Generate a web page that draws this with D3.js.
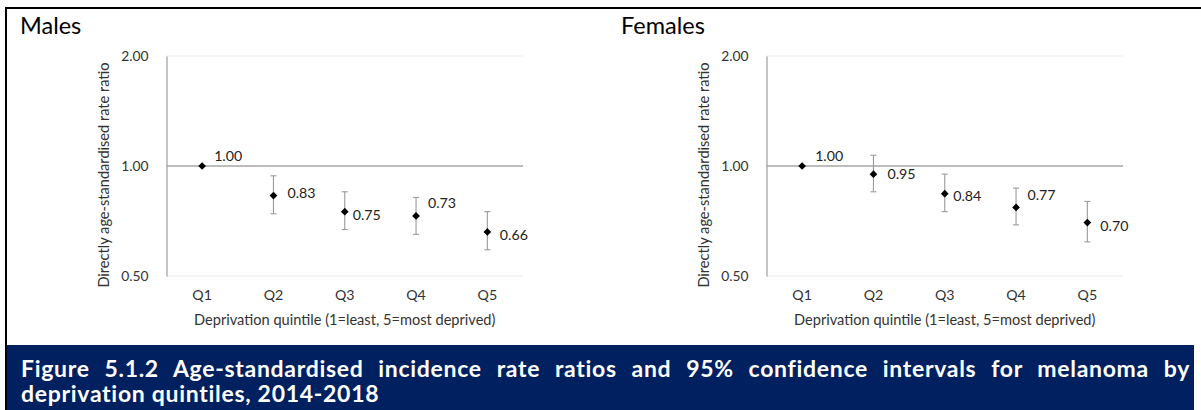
<!DOCTYPE html>
<html>
<head>
<meta charset="utf-8">
<script src="https://cdn.jsdelivr.net/npm/d3@7"></script>
<style>
  body { margin: 0; background: #fff; }
  svg { display: block; font-family: Lato, "Open Sans", sans-serif; }
</style>
</head>
<body>
<script>
// data
const categories = ["Q1", "Q2", "Q3", "Q4", "Q5"];
const yTicks = [0.5, 1, 2];

const maleRatio = [1.00, 0.83, 0.75, 0.73, 0.66];
const maleLower = [1.00, 0.74, 0.67, 0.65, 0.59];
const maleUpper = [1.00, 0.94, 0.85, 0.82, 0.75];

const femaleRatio = [1.00, 0.95, 0.84, 0.77, 0.70];
const femaleLower = [1.00, 0.85, 0.75, 0.69, 0.62];
const femaleUpper = [1.00, 1.07, 0.95, 0.87, 0.80];

const captionLines = [
    "Figure 5.1.2 Age-standardised incidence rate ratios and 95% confidence intervals for melanoma by",
    "deprivation quintiles, 2014-2018"
];

// label offsets (layout only) [dx, dy] from the marker
const maleLabelPos = [[12, -10], [14, -3], [8, 3], [12, -13], [12.5, 3.5]];
const femaleLabelPos = [[13, -10], [14, 0], [8.5, 2.5], [11.5, -12.7], [13, 3.7]];

const W = 1201, H = 410;
const plotTop = 56, plotH = 220, plotW = 356.5;

const svg = d3.select("body").append("svg")
    .attr("width", W)
    .attr("height", H);

// outer frame (top + left only)
svg.append("rect").attr("x", 5).attr("y", 7).attr("width", W - 5).attr("height", 2).attr("fill", "#000");
svg.append("rect").attr("x", 5).attr("y", 7).attr("width", 2).attr("height", H - 7).attr("fill", "#000");

const y = d3.scaleLog().domain([0.5, 2]).range([plotH, 0]);

const panels = [
    { title: "Males", titleX: 20, left: 166.5, ratio: maleRatio, lower: maleLower, upper: maleUpper, labelPos: maleLabelPos },
    { title: "Females", titleX: 621, left: 766.5, ratio: femaleRatio, lower: femaleLower, upper: femaleUpper, labelPos: femaleLabelPos }
];

panels.forEach(p => drawPanel(p));

function drawPanel(p) {
    const x = d3.scaleBand().domain(categories).range([0, plotW]);
    const rows = categories.map((c, i) => ({
        cat: c, v: p.ratio[i], lo: p.lower[i], hi: p.upper[i], pos: p.labelPos[i]
    }));

    svg.append("text")
        .attr("x", p.titleX)
        .attr("y", 33.5)
        .attr("font-size", 23.5)
        .attr("fill", "#000")
        .text(p.title);

    const g = svg.append("g").attr("transform", `translate(${p.left},${plotTop})`);

    // light gridlines at 0.5 and 2
    g.selectAll("line.grid")
        .data(yTicks.filter(d => d !== 1))
        .join("line")
        .attr("class", "grid")
        .attr("x1", 0).attr("x2", plotW)
        .attr("y1", d => y(d)).attr("y2", d => y(d))
        .attr("stroke", "#ebebeb")
        .attr("stroke-width", 1.2);

    // y axis
    const yAxis = g.append("g")
        .call(d3.axisLeft(y).tickValues(yTicks).tickFormat(d3.format(".2f")).tickSize(0).tickPadding(18));
    yAxis.select(".domain").attr("stroke", "#a6a6a6").attr("stroke-width", 1.3);
    yAxis.selectAll("text")
        .attr("font-family", "Lato, sans-serif")
        .attr("font-size", 13.8)
        .attr("fill", "#333");

    // horizontal axis crosses at 1.00
    g.append("line")
        .attr("x1", 0).attr("x2", plotW)
        .attr("y1", y(1)).attr("y2", y(1))
        .attr("stroke", "#a6a6a6")
        .attr("stroke-width", 1.5);

    // category labels sit at the bottom
    const xAxis = g.append("g")
        .attr("transform", `translate(0,${plotH})`)
        .call(d3.axisBottom(x).tickSize(0).tickPadding(14));
    xAxis.select(".domain").remove();
    xAxis.selectAll("text")
        .attr("font-family", "Lato, sans-serif")
        .attr("font-size", 14.2)
        .attr("fill", "#333");

    // error bars
    const cx = d => x(d.cat) + x.bandwidth() / 2;
    const bars = g.selectAll("g.err").data(rows.filter(d => d.hi !== d.lo)).join("g").attr("class", "err")
        .attr("stroke", "#9a9a9a").attr("stroke-width", 1.1);
    bars.append("line").attr("x1", cx).attr("x2", cx).attr("y1", d => y(d.hi)).attr("y2", d => y(d.lo));
    bars.append("line").attr("x1", d => cx(d) - 3).attr("x2", d => cx(d) + 3).attr("y1", d => y(d.hi)).attr("y2", d => y(d.hi));
    bars.append("line").attr("x1", d => cx(d) - 3).attr("x2", d => cx(d) + 3).attr("y1", d => y(d.lo)).attr("y2", d => y(d.lo));

    // diamond markers
    g.selectAll("path.pt")
        .data(rows)
        .join("path")
        .attr("class", "pt")
        .attr("d", d3.symbol(d3.symbolSquare, 30))
        .attr("transform", d => `translate(${cx(d)},${y(d.v)}) rotate(45)`)
        .attr("fill", "#000");

    // data labels
    g.selectAll("text.lbl")
        .data(rows)
        .join("text")
        .attr("class", "lbl")
        .attr("x", d => cx(d) + d.pos[0])
        .attr("y", d => y(d.v) + d.pos[1])
        .attr("dy", "0.35em")
        .attr("font-size", 14.2)
        .attr("fill", "#222")
        .text(d => d3.format(".2f")(d.v));

    // axis titles
    svg.append("text")
        .attr("transform", `translate(${p.left - 62.5},175) rotate(-90)`)
        .attr("text-anchor", "middle")
        .attr("dy", "0.35em")
        .attr("font-size", 14.6)
        .attr("fill", "#333")
        .text("Directly age-standardised rate ratio");

    svg.append("text")
        .attr("x", p.left + plotW / 2)
        .attr("y", 325)
        .attr("text-anchor", "middle")
        .attr("font-size", 14.6)
        .attr("fill", "#333")
        .text("Deprivation quintile (1=least, 5=most deprived)");
}

// caption box
svg.append("rect")
    .attr("x", 7).attr("y", 345)
    .attr("width", 1187).attr("height", H - 345)
    .attr("fill", "#002060");

const cap = svg.append("g")
    .attr("font-weight", "bold")
    .attr("font-size", 23)
    .attr("letter-spacing", 0.7)
    .attr("fill", "#fff");

const line1 = cap.append("text").attr("x", 21).attr("y", 376.5).text(captionLines[0]);
cap.append("text").attr("x", 21).attr("y", 402).text(captionLines[1]);

// justify the first line to the right edge of the box
const natural = line1.node().getComputedTextLength();
const gaps = captionLines[0].split(" ").length - 1;
line1.attr("word-spacing", Math.max(0, (1190 - 21 - natural) / gaps));
</script>
</body>
</html>
